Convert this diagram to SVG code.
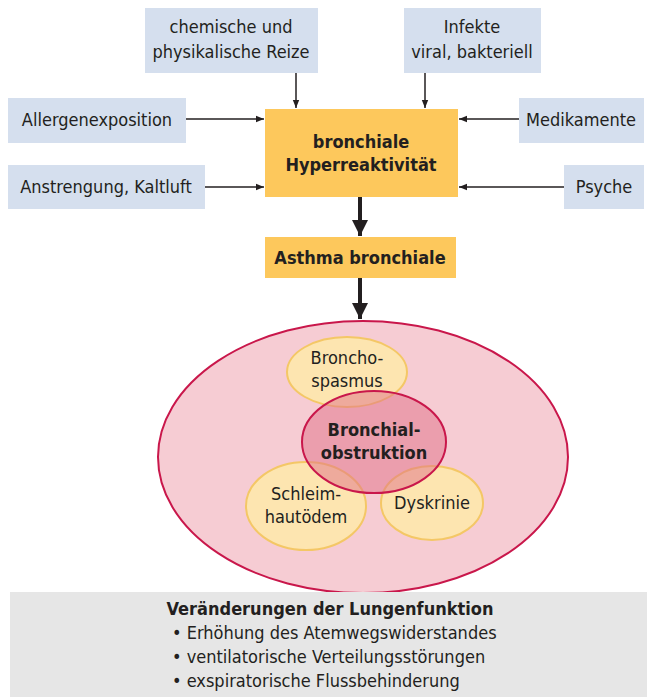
<svg xmlns="http://www.w3.org/2000/svg" width="651" height="697" viewBox="0 0 651 697">
<defs>
<style>
.src{fill:#d5dfee}
.t{font-family:"Liberation Sans Narrow","DejaVu Sans Condensed","Liberation Sans",sans-serif;font-size:18px;fill:#231f20;text-anchor:middle}
.b{font-weight:bold}
.ln{stroke:#231f20;stroke-width:1.5;fill:none}
.thick{stroke:#231f20;stroke-width:4;fill:none}
.yel{fill:#fde5b0;stroke:#f4c766;stroke-width:2}
</style>
<marker id="ah" viewBox="0 0 10 10" refX="10" refY="5" markerWidth="8" markerHeight="8" markerUnits="userSpaceOnUse" orient="auto"><path d="M0,1 L10,5 L0,9 Z" fill="#231f20"/></marker>
<marker id="ahb" viewBox="0 0 10 10" refX="10" refY="5" markerWidth="4" markerHeight="4" orient="auto"><path d="M0,0 L10,5 L0,10 Z" fill="#231f20"/></marker>
</defs>
<rect width="651" height="697" fill="#ffffff"/>

<g id="n-chemische">
<rect class="src" x="145" y="8" width="173" height="65"/>
<text class="t" x="231" y="33">chemische und</text>
<text class="t" x="231" y="58">physikalische Reize</text>
</g>
<g id="n-infekte">
<rect class="src" x="404" y="8" width="137" height="65"/>
<text class="t" x="472" y="33">Infekte</text>
<text class="t" x="472" y="58">viral, bakteriell</text>
</g>
<g id="n-allergen">
<rect class="src" x="8" y="98" width="178" height="45"/>
<text class="t" x="97" y="126">Allergenexposition</text>
</g>
<g id="n-medikamente">
<rect class="src" x="519" y="98" width="125" height="45"/>
<text class="t" x="581" y="126">Medikamente</text>
</g>
<g id="n-anstrengung">
<rect class="src" x="8" y="165" width="197" height="44"/>
<text class="t" x="106" y="193">Anstrengung, Kaltluft</text>
</g>
<g id="n-psyche">
<rect class="src" x="564" y="165" width="80" height="44"/>
<text class="t" x="604" y="193">Psyche</text>
</g>
<g id="n-hyper">
<rect x="265" y="109" width="193" height="88" fill="#fdc85c"/>
<text class="t b" x="361" y="148">bronchiale</text>
<text class="t b" x="361" y="171">Hyperreaktivität</text>
</g>
<g id="n-asthma">
<rect x="265" y="237" width="191" height="41" fill="#fdc85c"/>
<text class="t b" x="360" y="264">Asthma bronchiale</text>
</g>

<g id="connectors">
<line class="ln" x1="296" y1="73" x2="296" y2="108" marker-end="url(#ah)"/>
<line class="ln" x1="425" y1="73" x2="425" y2="108" marker-end="url(#ah)"/>
<line class="ln" x1="186" y1="119" x2="264" y2="119" marker-end="url(#ah)"/>
<line class="ln" x1="205" y1="187" x2="264" y2="187" marker-end="url(#ah)"/>
<line class="ln" x1="519" y1="119" x2="459" y2="119" marker-end="url(#ah)"/>
<line class="ln" x1="564" y1="187" x2="459" y2="187" marker-end="url(#ah)"/>
<line class="thick" x1="360" y1="197" x2="360" y2="236" marker-end="url(#ahb)"/>
<line class="thick" x1="360" y1="278" x2="360" y2="319" marker-end="url(#ahb)"/>
</g>

<g id="n-outer">
<ellipse cx="363" cy="457" rx="205" ry="136" fill="#f6ccd3" stroke="#c9174b" stroke-width="2"/>
</g>
<g id="n-spasmus">
<ellipse class="yel" cx="347" cy="372" rx="60" ry="35"/>
<text class="t" x="347" y="364">Broncho-</text>
<text class="t" x="347" y="387">spasmus</text>
</g>
<g id="n-oedem">
<ellipse class="yel" cx="306" cy="506" rx="60" ry="44"/>
<text class="t" x="306" y="500">Schleim-</text>
<text class="t" x="306" y="523">hautödem</text>
</g>
<g id="n-dyskrinie">
<ellipse class="yel" cx="432" cy="503" rx="51" ry="37"/>
<text class="t" x="432" y="509">Dyskrinie</text>
</g>
<g id="n-obstruktion">
<ellipse cx="374" cy="442" rx="72" ry="51" fill="#e06f88" fill-opacity="0.5" stroke="#c9174b" stroke-width="2"/>
<text class="t b" x="374" y="436">Bronchial-</text>
<text class="t b" x="374" y="459">obstruktion</text>
</g>

<g id="n-lungenfunktion">
<rect x="10" y="592" width="637" height="105" fill="#e6e6e6"/>
<text class="t b" x="330" y="615">Veränderungen der Lungenfunktion</text>
<text class="t" x="172" y="639" style="text-anchor:start">• Erhöhung des Atemwegswiderstandes</text>
<text class="t" x="172" y="663" style="text-anchor:start">• ventilatorische Verteilungsstörungen</text>
<text class="t" x="172" y="687" style="text-anchor:start">• exspiratorische Flussbehinderung</text>
</g>
</svg>
